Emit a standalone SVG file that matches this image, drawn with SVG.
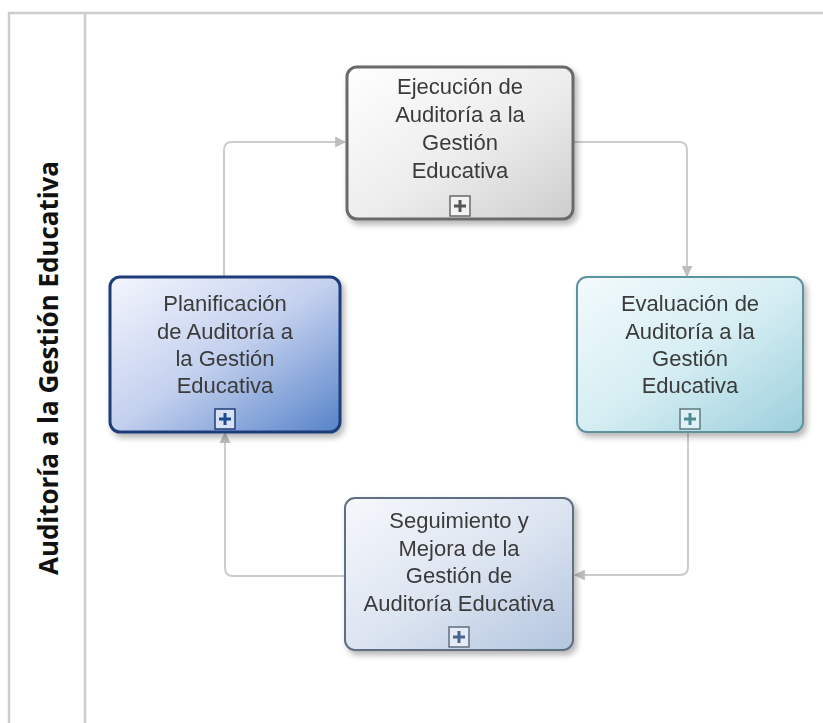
<svg xmlns="http://www.w3.org/2000/svg" width="823" height="723" viewBox="0 0 823 723">
  <defs>
    <linearGradient id="gGray" x1="0" y1="0" x2="1" y2="1">
      <stop offset="0" stop-color="#ffffff"/>
      <stop offset="0.55" stop-color="#ececec"/>
      <stop offset="1" stop-color="#cdcdcd"/>
    </linearGradient>
    <linearGradient id="gBlue" x1="0" y1="0" x2="1" y2="1">
      <stop offset="0" stop-color="#f4f6fd"/>
      <stop offset="0.5" stop-color="#c3d0ee"/>
      <stop offset="1" stop-color="#5683c9"/>
    </linearGradient>
    <linearGradient id="gTeal" x1="0" y1="0" x2="1" y2="1">
      <stop offset="0" stop-color="#f3fafc"/>
      <stop offset="0.5" stop-color="#d6eef3"/>
      <stop offset="1" stop-color="#9ccfdc"/>
    </linearGradient>
    <linearGradient id="gSlate" x1="0" y1="0" x2="1" y2="1">
      <stop offset="0" stop-color="#f6f8fc"/>
      <stop offset="0.5" stop-color="#dde5f1"/>
      <stop offset="1" stop-color="#b3c5df"/>
    </linearGradient>
    <filter id="shadow" x="-10%" y="-10%" width="125%" height="130%">
      <feGaussianBlur in="SourceAlpha" stdDeviation="3"/>
      <feOffset dx="3" dy="4" result="b"/>
      <feComponentTransfer><feFuncA type="linear" slope="0.3"/></feComponentTransfer>
      <feMerge><feMergeNode/><feMergeNode in="SourceGraphic"/></feMerge>
    </filter>
    <marker id="arrow" viewBox="0 0 10 10" refX="9" refY="5" markerWidth="5.5" markerHeight="5.5" orient="auto" markerUnits="strokeWidth">
      <path d="M0,0 L10,5 L0,10 z" fill="#bdbdbd"/>
    </marker>
  </defs>
  <style>
    .frame { fill: none; stroke: #cdcdcd; stroke-width: 2.5; }
    .conn { fill: none; stroke: #cccccc; stroke-width: 2; marker-end: url(#arrow); }
    .lbl { font-family: "Liberation Sans", Arial, sans-serif; font-size: 22px; fill: #3a3a3a; text-anchor: middle; }
    .lane { font-family: "Open Sans", "Liberation Sans", sans-serif; font-size: 26px; font-weight: bold; fill: #111111; text-anchor: middle; }
  </style>

  <rect width="823" height="723" fill="#ffffff"/>

  <g id="pool">
    <path class="frame" d="M9,730 V13 H830"/>
    <line class="frame" x1="85" y1="13" x2="85" y2="730"/>
    <text class="lane" transform="translate(58,368) rotate(-90)" textLength="414" lengthAdjust="spacingAndGlyphs">Auditoría a la Gestión Educativa</text>
  </g>

  <g id="connectors">
    <path class="conn" d="M224,277 V150 Q224,142 232,142 H345"/>
    <path class="conn" d="M573,142 H679 Q687,142 687,150 V276"/>
    <path class="conn" d="M688,432 V567 Q688,575 680,575 H575"/>
    <path class="conn" d="M345,576 H233 Q225,576 225,568 V433"/>
  </g>

  <g id="ejecucion" filter="url(#shadow)">
    <rect x="347" y="67" width="226" height="152" rx="10" fill="url(#gGray)" stroke="#6a6a6a" stroke-width="3"/>
    <text class="lbl" x="460" y="94">Ejecución de</text>
    <text class="lbl" x="460" y="122">Auditoría a la</text>
    <text class="lbl" x="460" y="150">Gestión</text>
    <text class="lbl" x="460" y="178">Educativa</text>
    <rect x="450" y="196" width="20" height="20" fill="#f2f2f2" stroke="#6a6a6a" stroke-width="1.5"/>
    <path d="M460,200 V212 M454,206 H466" stroke="#555555" stroke-width="3"/>
  </g>

  <g id="planificacion" filter="url(#shadow)">
    <rect x="110" y="277" width="230" height="155" rx="10" fill="url(#gBlue)" stroke="#1f3d7a" stroke-width="3"/>
    <text class="lbl" x="225" y="311">Planificación</text>
    <text class="lbl" x="225" y="339">de Auditoría a</text>
    <text class="lbl" x="225" y="366">la Gestión</text>
    <text class="lbl" x="225" y="393">Educativa</text>
    <rect x="215" y="409" width="20" height="20" fill="#d8e2f5" stroke="#1f3d7a" stroke-width="1.5"/>
    <path d="M225,413 V425 M219,419 H231" stroke="#1f4a8f" stroke-width="3"/>
  </g>

  <g id="evaluacion" filter="url(#shadow)">
    <rect x="577" y="277" width="226" height="155" rx="10" fill="url(#gTeal)" stroke="#5d939c" stroke-width="2"/>
    <text class="lbl" x="690" y="311">Evaluación de</text>
    <text class="lbl" x="690" y="339">Auditoría a la</text>
    <text class="lbl" x="690" y="366">Gestión</text>
    <text class="lbl" x="690" y="393">Educativa</text>
    <rect x="680" y="409" width="20" height="20" fill="#dff1f5" stroke="#5d7a80" stroke-width="1.5"/>
    <path d="M690,413 V425 M684,419 H696" stroke="#4d8b96" stroke-width="3"/>
  </g>

  <g id="seguimiento" filter="url(#shadow)">
    <rect x="345" y="498" width="228" height="152" rx="10" fill="url(#gSlate)" stroke="#5f6f83" stroke-width="2"/>
    <text class="lbl" x="459" y="528">Seguimiento y</text>
    <text class="lbl" x="459" y="556">Mejora de la</text>
    <text class="lbl" x="459" y="583">Gestión de</text>
    <text class="lbl" x="459" y="611">Auditoría Educativa</text>
    <rect x="449" y="627" width="20" height="20" fill="#e4ebf5" stroke="#5f6f83" stroke-width="1.5"/>
    <path d="M459,631 V643 M453,637 H465" stroke="#4a6590" stroke-width="3"/>
  </g>
</svg>
